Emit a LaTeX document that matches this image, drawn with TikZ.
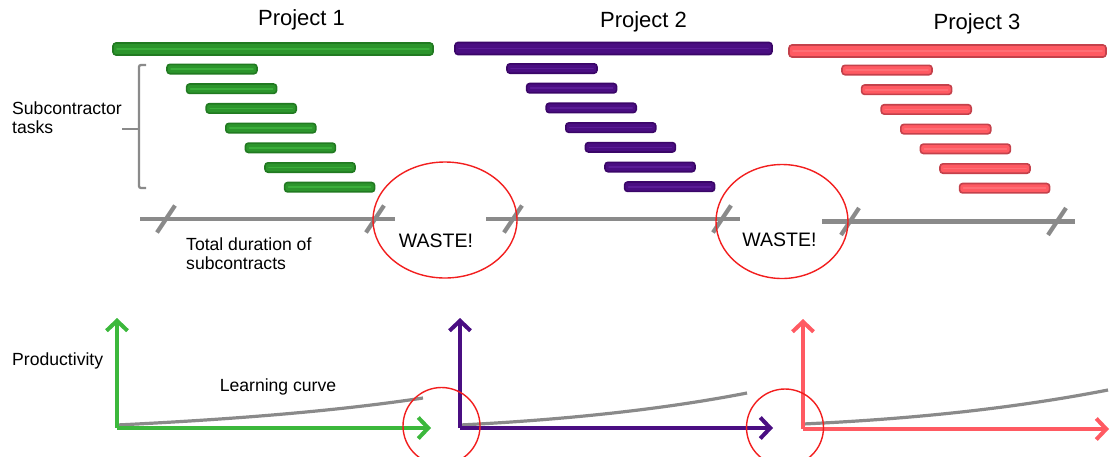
\documentclass[tikz,border=0pt]{standalone}
\usepackage{fontspec}
\setmainfont{Liberation Sans}
\usetikzlibrary{arrows.meta,shapes.geometric}

% bar colours: main fill, outline, centre highlight
\definecolor{gmain}{HTML}{2C952C}
\definecolor{gdark}{HTML}{217A21}
\definecolor{glight}{HTML}{3AAE3A}
\definecolor{pmain}{HTML}{4A0E82}
\definecolor{pdark}{HTML}{3A0668}
\definecolor{plight}{HTML}{5A1C96}
\definecolor{rmain}{HTML}{FF5A62}
\definecolor{rdark}{HTML}{C4414B}
\definecolor{rlight}{HTML}{FF6E75}
% axis colours
\definecolor{gaxis}{HTML}{3CB83C}
\definecolor{paxis}{HTML}{4A0E82}
\definecolor{raxis}{HTML}{FF5A62}
\definecolor{linegray}{HTML}{8A8A8A}
\definecolor{wastered}{HTML}{F21E1E}

% a rounded Gantt bar: colour set, left x, right x, centre y, half height
\newcommand\ganttbar[5]{%
  \filldraw[fill=#1main, draw=#1dark, line width=1.6, rounded corners=3]
    (#2,#4-#5) rectangle (#3,#4+#5);
  \draw[#1light, line width=1.6, line cap=round] (#2+4,#4) -- (#3-4,#4);
}

\begin{document}
\begin{tikzpicture}[x=1pt, y=-1pt,
  lbl/.style={inner sep=0, font=\fontsize{17.6}{19.5}\selectfont},
  title/.style={inner sep=0, font=\fontsize{22}{24}\selectfont},
  wastetxt/.style={inner sep=0, font=\fontsize{19.5}{21}\selectfont},
  timeline/.style={draw=linegray, line width=4.2},
  tickmark/.style={draw=linegray, line width=4.2},
  wasteloop/.style={draw=wastered, line width=1.4, ellipse, inner sep=0},
  axis/.style={line width=4, -{Straight Barb[length=10pt,width=21pt,line width=4pt]}},
  learn/.style={draw=linegray, line width=3.2},
  bracketline/.style={draw=linegray, line width=2.3, rounded corners=2}]
\useasboundingbox (0,0) rectangle (1110,456);

% project titles
\node[title] (t1) at (301.5,20) {Project 1};
\node[title] (t2) at (643.5,22) {Project 2};
\node[title] (t3) at (977,24) {Project 3};

% project bars
\ganttbar{g}{113}{433}{49}{6}
\ganttbar{p}{455}{772}{48.5}{6}
\ganttbar{r}{789}{1106}{51}{6}

% subcontractor task bars
\foreach \i [evaluate=\i as \xa using 167+19.6*\i,
             evaluate=\i as \ya using 69+19.7*\i] in {0,...,6} {
  \ganttbar{g}{\xa}{\xa+90}{\ya}{4.7}
}
\foreach \i [evaluate=\i as \xa using 507+19.6*\i,
             evaluate=\i as \ya using 68.5+19.7*\i] in {0,...,6} {
  \ganttbar{p}{\xa}{\xa+90}{\ya}{4.7}
}
\foreach \i [evaluate=\i as \xa using 842+19.6*\i,
             evaluate=\i as \ya using 70+19.7*\i] in {0,...,6} {
  \ganttbar{r}{\xa}{\xa+90}{\ya}{4.7}
}

% bracket for the subcontractor tasks
\coordinate (bt) at (146,65);
\coordinate (bb) at (146,188);
\coordinate (bm) at (122,129);
\draw[bracketline] (bt) -- (139,65) -- (139,188) -- (bb);
\draw[bracketline] (bm) -- (139,129);
\node[lbl, anchor=west, align=left] (sub) at (12,117.5) {Subcontractor\\tasks};

% duration lines with end ticks
\coordinate (d1a) at (140,219);  \coordinate (d1b) at (395,219);
\coordinate (d2a) at (486,219);  \coordinate (d2b) at (740,219);
\coordinate (d3a) at (822,221.5);\coordinate (d3b) at (1075,221.5);
\draw[timeline] (d1a) -- (d1b);
\draw[timeline] (d2a) -- (d2b);
\draw[timeline] (d3a) -- (d3b);
\foreach \x/\y in {166/219, 375/219, 513/219, 722/219, 850/221.5, 1057/221.5}
  \draw[tickmark] (\x-9,\y+13.5) -- (\x+9,\y-13.5);
\node[lbl, anchor=west, align=left] (dur) at (186,253.5) {Total duration of\\subcontracts};

% gaps between projects
\node[wasteloop, minimum width=144, minimum height=116] (w1) at (445,220) {};
\node[wasteloop, minimum width=132, minimum height=114] (w2) at (782,221.5) {};
\node[wastetxt] (wt1) at (436,241) {WASTE!};
\node[wastetxt] (wt2) at (779.5,240) {WASTE!};

% productivity axes
\coordinate (o1) at (117,428); \coordinate (y1) at (117,318); \coordinate (x1) at (431,428);
\coordinate (o2) at (460,428); \coordinate (y2) at (460,318); \coordinate (x2) at (773,428);
\coordinate (o3) at (803,429); \coordinate (y3) at (803,319); \coordinate (x3) at (1109,429);
\node[lbl, anchor=west] (prod) at (12,361) {Productivity};

% learning curves
\draw[learn] (117,425) .. controls (220,420) and (330,412) .. (423,398);
\draw[learn] (460,425) .. controls (560,420) and (660,410) .. (747,393);
\draw[learn] (803,424) .. controls (910,419) and (1010,409) .. (1108,390);
\node[lbl] (lc) at (278,387) {Learning curve};

\draw[axis, gaxis] (o1) -- (y1);
\draw[axis, gaxis] (o1) -- (x1);
\draw[axis, paxis] (o2) -- (y2);
\draw[axis, paxis] (o2) -- (x2);
\draw[axis, raxis] (o3) -- (y3);
\draw[axis, raxis] (o3) -- (x3);

% losses at each project start
\node[draw=wastered, line width=1.4, circle, inner sep=0, minimum size=77] (c1) at (441.5,426) {};
\node[draw=wastered, line width=1.4, circle, inner sep=0, minimum size=77] (c2) at (785,427.5) {};
\end{tikzpicture}
\end{document}
